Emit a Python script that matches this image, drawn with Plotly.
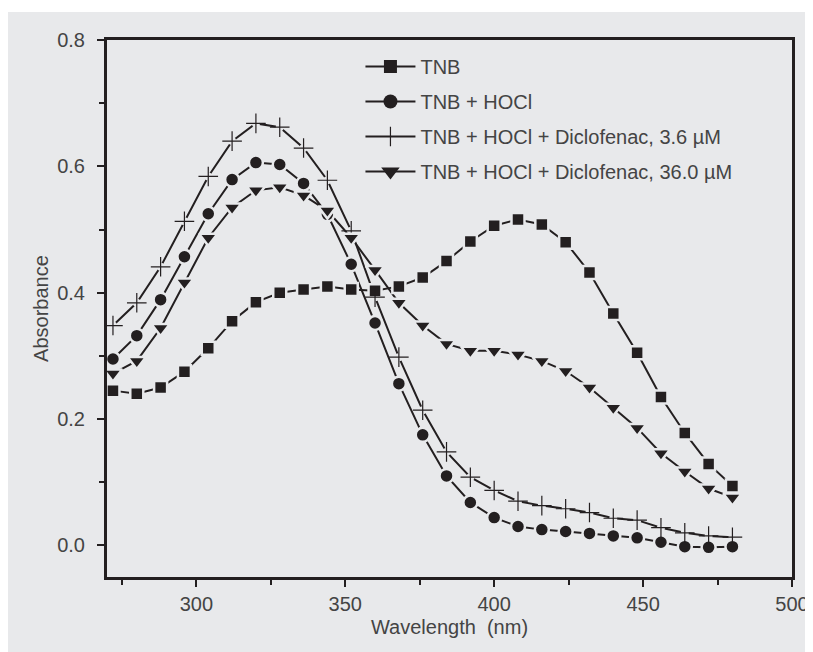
import plotly.graph_objects as go

wavelength = [272, 280, 288, 296, 304, 312, 320, 328, 336, 344, 352, 360, 368, 376,
              384, 392, 400, 408, 416, 424, 432, 440, 448, 456, 464, 472, 480]

tnb = [0.245, 0.240, 0.250, 0.275, 0.312, 0.355, 0.385, 0.400, 0.405, 0.410, 0.405, 0.403, 0.410, 0.424,
       0.450, 0.481, 0.506, 0.516, 0.508, 0.480, 0.432, 0.367, 0.305, 0.235, 0.178, 0.129, 0.094]

tnb_hocl = [0.295, 0.332, 0.389, 0.457, 0.525, 0.579, 0.606, 0.603, 0.573, 0.524, 0.445, 0.352, 0.256, 0.175,
            0.110, 0.068, 0.044, 0.030, 0.025, 0.022, 0.019, 0.015, 0.012, 0.005, -0.002, -0.003, -0.002]

dic_36 = [0.348, 0.384, 0.441, 0.513, 0.584, 0.640, 0.668, 0.662, 0.629, 0.578, 0.498, 0.393, 0.298, 0.214,
          0.148, 0.108, 0.087, 0.070, 0.063, 0.058, 0.052, 0.043, 0.040, 0.028, 0.020, 0.015, 0.013]

dic_360 = [0.272, 0.292, 0.344, 0.416, 0.487, 0.535, 0.562, 0.567, 0.554, 0.530, 0.487, 0.436, 0.384, 0.348,
           0.319, 0.308, 0.308, 0.302, 0.292, 0.276, 0.250, 0.218, 0.186, 0.146, 0.117, 0.090, 0.076]

names = ["TNB", "TNB + HOCl", "TNB + HOCl + Diclofenac, 3.6 µM", "TNB + HOCl + Diclofenac, 36.0 µM"]
series = [tnb, tnb_hocl, dic_36, dic_360]
symbols = ["square", "circle", "cross-thin", "triangle-down"]
sizes = [13, 14, 14, 16]

ink = "#231f20"
bg = "#e8e9eb"
txt = "#444444"
font_family = "Liberation Sans, Arial, sans-serif"

fig = go.Figure()

# connecting lines
for ys in series:
    fig.add_trace(go.Scatter(x=wavelength, y=ys, mode="lines",
                             line=dict(color=ink, width=2), showlegend=False, hoverinfo="skip"))

# halo behind plus markers (creates the line gap)
fig.add_trace(go.Scatter(x=wavelength, y=dic_36, mode="markers",
                         marker=dict(symbol="circle", size=8, color=bg, line=dict(width=0)),
                         showlegend=False, hoverinfo="skip"))

# markers
for ys, sym, sz in zip(series, symbols, sizes):
    if sym == "cross-thin":
        mk = dict(symbol=sym, size=sz, color=ink, line=dict(color=ink, width=1.2))
    else:
        mk = dict(symbol=sym, size=sz, color=ink, line=dict(color=bg, width=2.5))
    fig.add_trace(go.Scatter(x=wavelength, y=ys, mode="markers", marker=mk,
                             showlegend=False))

# legend entries
for i, (nm, sym, sz) in enumerate(zip(names, symbols, sizes)):
    if sym == "cross-thin":
        mk = dict(symbol=sym, size=sz, color=ink, line=dict(color=ink, width=1.2))
    else:
        mk = dict(symbol=sym, size=sz, color=ink, line=dict(width=0))
    fig.add_trace(go.Scatter(x=[None], y=[None], mode="lines+markers", name=nm,
                             legendgroup=f"g{i}", line=dict(color=ink, width=2), marker=mk))

axis_common = dict(
    showline=True, linecolor=ink, linewidth=3, mirror=True,
    ticks="outside", tickcolor=ink, tickwidth=2, ticklen=7,
    showgrid=False, zeroline=False, automargin=False,
    tickfont=dict(family=font_family, size=20, color=txt),
)

fig.update_xaxes(range=[270, 500], dtick=50, tick0=300, ticklabeloverflow="allow",
                 minor=dict(dtick=25, tick0=275, ticks="outside", ticklen=5, tickwidth=2, tickcolor=ink, showgrid=False),
                 title=dict(text="Wavelength  (nm)", standoff=6,
                            font=dict(family=font_family, size=20, color=txt)),
                 **axis_common)
fig.update_yaxes(range=[-0.05, 0.8], dtick=0.2, tick0=0, tickformat=".1f",
                 minor=dict(dtick=0.1, tick0=0.1, ticks="outside", ticklen=5, tickwidth=2, tickcolor=ink, showgrid=False),
                 ticklabelstandoff=8,
                 title=dict(text="Absorbance", standoff=4,
                            font=dict(family=font_family, size=20, color=txt)),
                 **axis_common)

fig.add_shape(type="rect", xref="paper", yref="paper",
              x0=-0.15, x1=1.06, y0=-0.16, y1=1.052,
              fillcolor=bg, line=dict(width=0), layer="below")

fig.update_layout(
    width=805, height=644,
    margin=dict(l=99, r=21, t=32, b=75, autoexpand=False),
    paper_bgcolor="white", plot_bgcolor=bg,
    legend=dict(x=0.37, y=0.987, xanchor="left", yanchor="top",
                bgcolor="rgba(0,0,0,0)", tracegroupgap=6, itemwidth=50,
                font=dict(family=font_family, size=20, color=txt)),
    showlegend=True,
)

fig.write_html("out.html")
